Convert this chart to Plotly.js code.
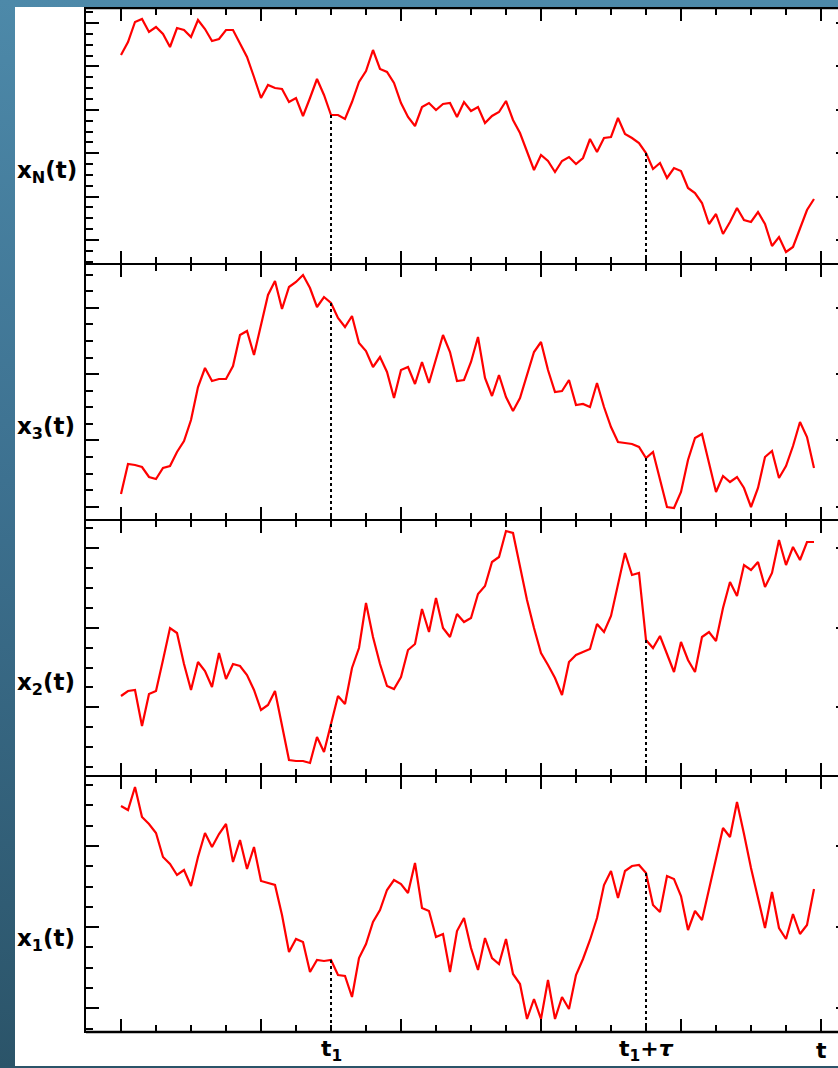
<!DOCTYPE html>
<html>
<head>
<meta charset="utf-8">
<script src="https://cdn.plot.ly/plotly-3.0.1.min.js"></script>
<style>
  html, body { margin: 0; padding: 0; overflow: hidden; width: 838px; height: 1068px; }
  body { background: linear-gradient(180deg, #4d89a9 0%, #3d7190 45%, #2b5469 100%); position: relative; }
  #chart { position: absolute; left: 15px; top: 7px; width: 845px; height: 1059px; }
</style>
</head>
<body>
<div id="chart"></div>
<script>
// sample times (arbitrary time units; t1 = 6, t1+tau = 15, t = 20)
const t = [0,0.2,0.4,0.6,0.8,1,1.2,1.4,1.6,1.8,2,2.2,2.4,2.6,2.8,3,3.2,3.4,3.6,3.8,
  4,4.2,4.4,4.6,4.8,5,5.2,5.4,5.6,5.8,6,6.2,6.4,6.6,6.8,7,7.2,7.4,7.6,7.8,
  8,8.2,8.4,8.6,8.8,9,9.2,9.4,9.6,9.8,10,10.2,10.4,10.6,10.8,11,11.2,11.4,11.6,11.8,
  12,12.2,12.4,12.6,12.8,13,13.2,13.4,13.6,13.8,14,14.2,14.4,14.6,14.8,15,15.2,15.4,15.6,15.8,
  16,16.2,16.4,16.6,16.8,17,17.2,17.4,17.6,17.8,18,18.2,18.4,18.6,18.8,19,19.2,19.4,19.6,19.8];

// series values (arbitrary units)
const xN = [20.9,22.2,24.2,24.5,23.2,23.7,23.0,21.7,23.6,23.4,
  22.7,24.4,23.5,22.3,22.5,23.4,23.4,22.1,20.7,18.7,
  16.6,17.9,17.6,17.5,16.2,16.6,14.8,16.6,18.5,16.9,
  14.9,14.9,14.5,16.2,18.2,19.3,21.4,19.5,19.2,18.1,
  16.1,14.7,13.8,15.7,16.1,15.4,16.0,16.1,14.7,16.2,
  15.3,15.7,14.1,14.8,15.2,16.3,14.4,13.1,11.2,9.4,
  10.9,10.3,9.2,10.3,10.7,10.0,10.6,12.5,11.2,12.6,
  12.7,14.6,13.0,12.6,12.1,11.1,9.5,10.1,8.6,9.6,
  9.3,7.6,7.1,6.1,4.0,5.0,3.0,4.2,5.6,4.4,
  4.2,5.2,4.0,1.8,2.7,1.2,1.7,3.5,5.4,6.5];

const x3 = [2.6,5.6,5.5,5.3,4.3,4.1,5.2,5.4,6.8,7.9,
  10.0,13.3,15.2,13.9,14.1,14.1,15.4,18.5,18.9,16.5,
  19.5,22.5,23.9,21.1,23.3,23.8,24.5,23.2,21.3,22.3,
  21.7,20.2,19.3,20.4,17.7,16.9,15.3,16.3,14.8,12.2,
  15.0,15.3,13.6,15.8,13.7,16.0,18.5,16.8,13.9,14.0,
  15.8,18.3,14.2,12.4,14.5,12.3,10.9,12.2,14.6,16.8,
  17.8,15.0,12.8,12.9,14.0,11.5,11.6,11.3,13.7,11.3,
  9.3,7.8,7.7,7.6,7.3,6.2,6.8,3.9,1.3,1.2,
  2.8,6.0,8.2,8.6,5.8,2.8,4.4,3.8,4.3,3.2,
  1.3,3.2,6.3,6.9,4.2,5.4,7.4,9.8,8.3,5.2];

const x2 = [8.0,8.5,8.6,5.0,8.2,8.5,11.6,14.8,14.3,11.2,
  8.6,11.4,10.5,8.9,12.3,9.7,11.2,11.0,10.1,8.6,
  6.6,7.1,8.5,5.1,1.6,1.5,1.5,1.3,3.9,2.4,
  5.2,8.0,7.2,10.8,12.8,17.3,13.9,11.2,9.0,8.7,
  9.9,12.6,13.2,16.7,14.4,17.8,14.8,13.9,16.2,15.4,
  15.8,18.2,19.0,21.4,21.9,24.5,24.3,21.0,17.6,14.8,
  12.3,11.1,9.8,8.1,11.4,12.1,12.4,12.7,15.2,14.4,
  16.0,19.3,22.3,20.1,20.3,13.6,12.8,14.0,12.2,10.4,
  13.4,11.6,10.4,13.9,14.4,13.5,16.8,19.4,18.0,21.1,
  20.6,21.4,18.9,20.3,23.6,21.1,22.9,21.6,23.4,23.4];

const x1 = [22.6,22.2,24.5,21.5,20.8,19.9,17.5,16.8,15.7,16.2,
  14.6,17.5,19.9,18.5,19.8,20.8,17.0,19.2,16.3,18.5,
  15.1,14.9,14.7,11.7,8.0,9.3,9.0,6.0,7.2,7.1,
  7.2,5.7,5.6,3.5,7.4,8.8,11.0,12.2,14.2,15.2,
  14.8,13.9,16.9,12.4,12.1,9.5,9.8,6.0,10.1,11.4,
  8.4,6.2,9.4,7.4,6.8,9.3,5.8,4.8,1.3,3.3,
  1.3,5.2,1.3,3.5,2.3,5.7,7.3,9.2,11.4,14.7,
  16.1,13.4,16.1,16.6,16.7,15.9,12.7,12.0,15.6,15.3,
  13.6,10.2,12.1,11.2,14.2,17.2,20.4,19.5,23.0,19.8,
  16.4,13.4,10.4,14.0,10.4,9.3,11.8,9.8,10.7,14.3];

// panel labels, top to bottom
const panelLabels = ["x<sub>N</sub>(t)", "x<sub>3</sub>(t)", "x<sub>2</sub>(t)", "x<sub>1</sub>(t)"];
// marked times and their tick labels
const markTimes = [6, 15];
const timeLabelPos = [6, 15, 20];
const timeLabels = ["t<sub>1</sub>", "t<sub>1</sub>+<i>τ</i>", "t"];

// per-panel y tick spacing (arbitrary units)
const yTick0 = [2.4, 1.33, 6.87, 2.37];
const yDtick = [4.34, 6.63, 7.95, 8.12];

const series = [xN, x3, x2, x1];
const yRange = [0, 25.6];
const xRange = [-1, 20.8];

const traces = [];
const layout = {
  width: 845, height: 1059,
  margin: {l: 71, r: 11, t: 1, b: 34},
  paper_bgcolor: 'white', plot_bgcolor: 'white',
  showlegend: false,
  annotations: [],
  shapes: [
    {type: 'line', xref: 'paper', yref: 'paper', x0: 0, x1: 1, y0: 1, y1: 1, line: {color: 'black', width: 2.5}},
    {type: 'line', xref: 'paper', yref: 'paper', x0: 0, x1: 1, y0: 0, y1: 0, line: {color: 'black', width: 2.5}}
  ]
};

series.forEach((ys, i) => {
  // panel i from top: axis number (bottom panel = 1)
  const n = 4 - i;
  const xa = n === 1 ? 'x' : 'x' + n;
  const ya = n === 1 ? 'y' : 'y' + n;
  traces.push({x: t, y: ys, xaxis: xa, yaxis: ya, mode: 'lines',
    line: {color: '#ff0000', width: 2.2}, hoverinfo: 'skip'});
  markTimes.forEach(mt => {
    const k = t.indexOf(mt);
    traces.push({x: [mt, mt], y: [ys[k], yRange[0]], xaxis: xa, yaxis: ya, mode: 'lines',
      line: {color: 'black', width: 2, dash: 'dot'}, hoverinfo: 'skip'});
  });
  const axKey = n === 1 ? '' : String(n);
  layout['xaxis' + axKey] = {
    domain: [0, 1], anchor: ya, range: xRange, showgrid: false, zeroline: false,
    showline: true, linecolor: 'black', linewidth: 1.3, mirror: 'allticks',
    ticks: 'inside', tick0: 0, dtick: 4, ticklen: 13, tickwidth: 2, tickcolor: 'black',
    showticklabels: false,
    minor: {ticks: 'inside', tick0: 0, dtick: 1, ticklen: 7, tickwidth: 2, tickcolor: 'black', showgrid: false}
  };
  layout['yaxis' + axKey] = {
    domain: [(n - 1) / 4, n / 4], anchor: xa, range: yRange, showgrid: false, zeroline: false,
    showline: true, linecolor: 'black', linewidth: 2.5, mirror: 'allticks',
    ticks: 'inside', tick0: yTick0[i], dtick: yDtick[i], ticklen: 13, tickwidth: 2, tickcolor: 'black',
    showticklabels: false,
    minor: {ticks: 'inside', tick0: yTick0[i], dtick: yDtick[i] / 4, ticklen: 7, tickwidth: 2, tickcolor: 'black', showgrid: false}
  };
  layout.annotations.push({
    text: '<b>' + panelLabels[i] + '</b>', xref: 'paper', yref: ya + ' domain',
    x: -0.0931, y: 0.36, xanchor: 'left', yanchor: 'middle', showarrow: false,
    font: {family: 'DejaVu Sans', size: 23, color: 'black'}
  });
});

timeLabelPos.forEach((p, j) => {
  layout.annotations.push({
    text: '<b>' + timeLabels[j] + '</b>', xref: 'x', yref: 'paper',
    x: p, y: -0.0176, xanchor: 'center', yanchor: 'middle', showarrow: false,
    font: {family: 'DejaVu Sans', size: 22, color: 'black'}
  });
});

Plotly.newPlot('chart', traces, layout, {staticPlot: true, displayModeBar: false});
</script>
</body>
</html>
